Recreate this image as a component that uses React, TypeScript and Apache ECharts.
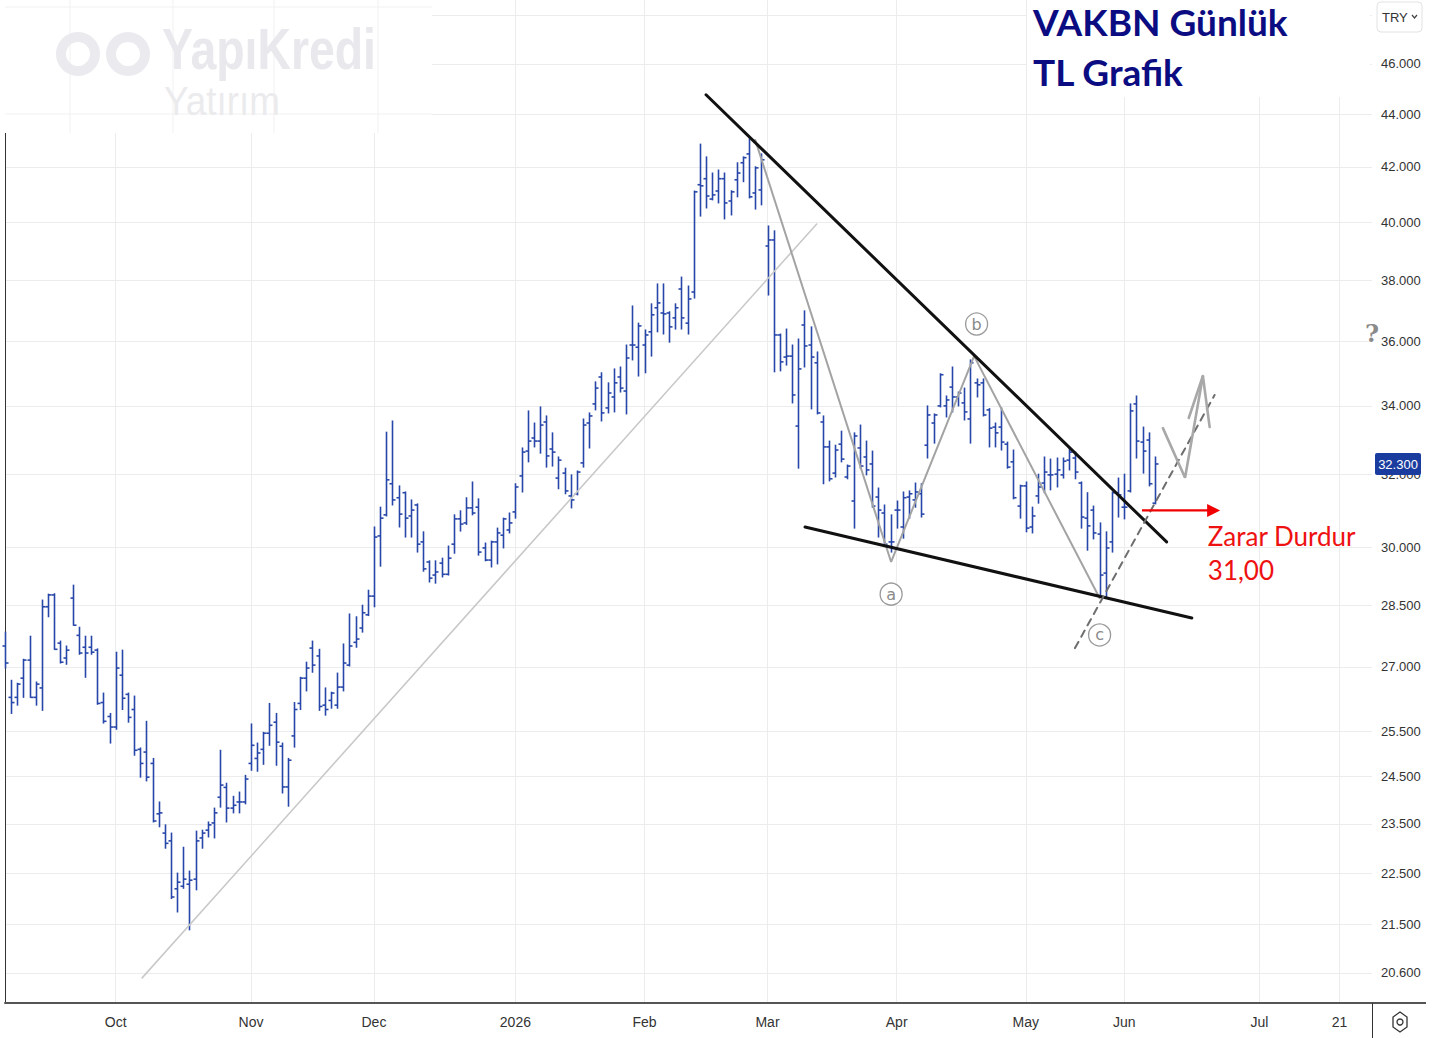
import React, { useEffect, useRef } from "react";
import * as echarts from "echarts";

// ---------- DATA (daily OHLC, VAKBN, TRY) ----------
const opens = [
  27.50, 26.28, 26.28, 26.73, 27.16, 26.28, 26.50, 28.47, 28.77, 27.57,
  27.21, 28.69, 27.76, 27.47, 27.47, 27.40, 26.16, 25.84, 25.60, 26.80,
  26.35, 26.00, 25.10, 25.04, 24.79, 23.71, 23.31, 23.15, 22.19, 22.24,
  22.28, 22.38, 23.21, 23.37, 23.52, 24.06, 24.27, 23.83, 23.96, 23.96,
  24.79, 24.90, 25.10, 25.46, 25.71, 25.17, 24.28, 25.40, 26.14, 26.73,
  27.45, 27.26, 26.10, 26.21, 26.10, 26.52, 27.04, 27.59, 27.94, 28.27,
  28.74, 30.31, 30.88, 31.74, 31.35, 31.49, 30.85, 31.15, 30.15, 29.62,
  29.28, 29.59, 29.30, 30.09, 30.77, 30.66, 31.07, 31.09, 29.99, 29.67,
  30.15, 30.33, 30.47, 30.96, 31.96, 32.67, 33.05, 32.96, 33.52, 32.73,
  31.90, 32.04, 31.40, 31.46, 32.33, 33.49, 34.06, 34.88, 33.94, 34.27,
  34.88, 34.45, 35.88, 35.81, 35.88, 36.30, 37.08, 36.91, 36.91, 36.75,
  37.70, 36.58, 37.60, 41.34, 41.56, 40.82, 41.11, 41.56, 40.75, 41.52,
  42.15, 42.48, 41.04, 41.15, 39.16, 39.37, 36.20, 35.50, 35.53, 33.40,
  36.52, 35.88, 35.32, 33.52, 32.79, 32.04, 32.87, 31.93, 31.26, 32.76,
  32.50, 32.30, 31.37, 30.93, 30.15, 31.01, 30.55, 31.37, 31.29, 31.46,
  32.84, 33.49, 34.00, 34.00, 34.57, 34.27, 34.09, 33.61, 34.70, 34.70,
  33.88, 33.37, 33.37, 32.87, 32.36, 31.12, 31.68, 30.55, 31.40, 31.76,
  31.99, 32.01, 31.99, 32.41, 32.47, 31.76, 30.79, 31.01, 30.36, 29.33,
  30.15, 31.49, 31.09, 31.54, 34.06, 32.93, 32.99, 31.20,
];
const highs = [
  27.84, 26.68, 26.61, 27.18, 27.74, 26.64, 28.64, 28.79, 28.80, 27.62,
  27.50, 29.02, 27.96, 27.74, 27.74, 27.43, 26.38, 25.91, 27.35, 27.40,
  26.38, 26.31, 25.13, 25.73, 24.90, 23.96, 23.48, 23.31, 22.50, 23.02,
  22.54, 23.35, 23.37, 23.54, 23.83, 25.08, 24.36, 24.08, 24.17, 24.53,
  25.67, 25.24, 25.48, 26.14, 25.91, 25.24, 24.90, 26.16, 26.75, 27.11,
  27.62, 27.42, 26.50, 26.40, 26.85, 27.55, 28.29, 28.22, 28.51, 28.89,
  30.55, 31.09, 33.22, 33.55, 31.68, 31.51, 31.29, 31.18, 30.42, 29.65,
  29.65, 29.72, 30.04, 30.88, 30.99, 31.35, 31.79, 31.32, 30.12, 30.17,
  30.52, 30.79, 30.93, 31.74, 32.76, 33.85, 33.49, 33.97, 33.70, 33.20,
  32.50, 32.18, 31.99, 32.10, 33.61, 33.79, 34.73, 35.01, 34.70, 35.13,
  35.19, 35.88, 37.14, 36.58, 36.36, 37.21, 37.87, 37.87, 36.95, 37.21,
  38.10, 37.80, 41.11, 42.85, 42.37, 41.77, 41.88, 41.77, 41.12, 42.15,
  42.37, 43.05, 42.00, 42.48, 39.86, 39.69, 36.23, 36.39, 35.88, 36.07,
  36.98, 36.46, 35.66, 33.70, 32.96, 32.84, 33.25, 32.27, 33.20, 33.43,
  32.96, 32.67, 31.62, 31.15, 30.88, 31.26, 31.51, 31.54, 31.76, 31.74,
  34.00, 33.76, 34.98, 34.30, 35.19, 34.42, 34.54, 35.41, 34.82, 34.82,
  33.92, 33.49, 33.94, 32.93, 32.70, 31.70, 31.79, 31.09, 32.01, 32.50,
  32.44, 32.47, 32.47, 32.76, 32.64, 31.79, 31.49, 31.12, 30.66, 30.42,
  31.51, 31.90, 32.01, 34.06, 34.30, 33.37, 33.20, 32.50,
];
const lows = [
  26.97, 25.91, 26.10, 26.28, 26.28, 26.10, 25.98, 28.22, 27.42, 27.09,
  27.06, 28.01, 27.30, 26.75, 27.30, 26.12, 25.69, 25.24, 25.55, 26.00,
  25.71, 24.97, 24.49, 24.41, 23.54, 23.44, 23.00, 22.00, 21.74, 22.20,
  21.40, 22.17, 23.00, 23.23, 23.21, 23.85, 23.54, 23.73, 23.73, 23.92,
  24.64, 24.62, 24.77, 25.19, 24.75, 24.15, 23.87, 25.15, 26.00, 26.43,
  26.87, 25.98, 25.87, 26.03, 26.03, 26.43, 27.02, 27.47, 27.84, 28.25,
  28.47, 29.51, 30.85, 31.15, 30.55, 30.28, 30.28, 29.88, 29.38, 29.10,
  29.07, 29.23, 29.28, 29.85, 30.44, 30.62, 30.88, 29.80, 29.65, 29.49,
  29.57, 29.99, 30.39, 30.79, 31.51, 32.36, 32.79, 32.61, 32.21, 32.24,
  31.60, 31.46, 31.07, 31.43, 32.21, 32.76, 33.88, 33.55, 33.79, 33.82,
  34.42, 33.76, 35.41, 34.91, 35.01, 35.53, 36.30, 36.23, 35.97, 36.39,
  36.39, 36.23, 37.40, 40.21, 40.50, 40.79, 40.68, 40.11, 40.25, 40.90,
  41.45, 40.86, 40.46, 40.61, 37.50, 35.04, 35.07, 35.25, 34.09, 32.18,
  35.19, 33.91, 33.76, 31.74, 31.82, 31.93, 32.36, 31.88, 30.52, 32.18,
  31.99, 31.09, 30.28, 30.07, 29.88, 30.52, 30.25, 30.79, 31.09, 30.82,
  32.47, 32.90, 33.97, 33.67, 33.82, 34.00, 33.58, 32.90, 34.27, 33.70,
  32.79, 32.79, 32.70, 32.18, 31.32, 30.79, 30.42, 30.39, 31.20, 31.49,
  31.57, 31.65, 31.90, 32.13, 31.88, 30.52, 29.93, 30.23, 28.72, 28.69,
  29.88, 30.82, 30.77, 31.51, 32.47, 32.04, 31.68, 31.18,
];
const closes = [
  27.09, 26.16, 26.59, 27.16, 26.28, 26.59, 28.47, 28.77, 27.42, 27.11,
  27.40, 28.01, 27.33, 27.33, 27.35, 26.14, 25.73, 25.60, 26.97, 26.26,
  25.82, 25.08, 24.79, 24.49, 23.56, 23.73, 23.10, 22.03, 22.32, 22.38,
  22.36, 23.15, 23.31, 23.48, 23.73, 24.32, 23.83, 23.89, 23.96, 24.45,
  25.19, 25.02, 25.46, 25.64, 25.26, 24.28, 24.86, 26.00, 26.73, 26.97,
  27.04, 26.07, 26.00, 26.38, 26.52, 27.09, 27.50, 27.67, 28.32, 28.74,
  30.28, 30.79, 31.85, 31.29, 30.90, 30.79, 31.01, 30.09, 29.44, 29.20,
  29.36, 29.30, 29.72, 30.77, 30.63, 31.07, 30.93, 29.88, 29.67, 30.15,
  30.39, 30.77, 30.66, 31.65, 32.64, 32.96, 32.96, 33.43, 32.53, 32.64,
  32.41, 31.54, 31.29, 32.07, 33.43, 33.70, 34.54, 33.79, 34.39, 34.70,
  34.54, 35.47, 35.88, 36.49, 36.20, 36.85, 37.24, 36.88, 36.46, 37.08,
  36.75, 37.37, 41.08, 41.30, 40.93, 40.97, 41.56, 40.68, 41.08, 41.77,
  42.34, 40.90, 41.96, 42.26, 39.37, 36.20, 35.35, 35.53, 34.33, 35.13,
  35.85, 35.50, 33.79, 32.79, 31.88, 32.70, 32.44, 32.24, 33.11, 32.24,
  32.13, 31.12, 31.01, 30.09, 30.15, 31.01, 31.35, 31.46, 31.51, 30.90,
  33.73, 33.73, 34.95, 34.18, 34.27, 34.39, 33.82, 35.32, 34.64, 33.73,
  33.34, 33.20, 32.93, 32.21, 31.35, 31.68, 30.52, 30.85, 31.65, 32.07,
  31.99, 32.13, 32.38, 32.64, 32.07, 30.82, 30.58, 30.39, 29.28, 29.99,
  31.49, 31.43, 31.09, 33.85, 32.96, 32.67, 31.74, 32.30,
];

// x axis: bar index of month starts and their labels
const monthTickIdx = [18, 40, 60, 83, 104, 124, 145, 166, 182, 204, 217];
const monthTickLabels = ["Oct", "Nov", "Dec", "2026", "Feb", "Mar", "Apr", "May", "Jun", "Jul", "21"];
// y axis (log): grid-line prices and labelled prices (48 is hidden behind the currency box)
const priceGridTicks = [20.6, 21.5, 22.5, 23.5, 24.5, 25.5, 27, 28.5, 30, 32, 34, 36, 38, 40, 42, 44, 46, 48];
const priceLabelTicks = [20.6, 21.5, 22.5, 23.5, 24.5, 25.5, 27, 28.5, 30, 32, 34, 36, 38, 40, 42, 44, 46];
const lastPrice = 32.3;
const stopPrice = 31.0;

// annotation anchors [bar index, price]
const supportLine = [[22.3, 20.51], [132.0, 39.93]];
const upperTrend = [[114.0, 44.76], [188.9, 30.15]];
const lowerTrend = [[130.1, 30.55], [193.0, 28.19]];
const waveLine = [[122.0, 43.01], [144.1, 29.62], [157.6, 35.53], [178.0, 28.69]];
const dashedLine = [[174.0, 27.45], [196.7, 34.33]];
const projPath = [[188.3, 33.34], [191.9, 31.91], [194.8, 34.91]];
const projHead = [[192.5, 33.64], [194.8, 34.91], [195.9, 33.37]];
const waveLabelNames = ["a", "b", "c"];
const waveLabelIdx = [144.1, 158.0, 178.0];
const waveLabelPrice = [28.79, 36.55, 27.77];
const stopArrow = [184.9, 197.6];
const stopTexts = ["Zarar Durdur", "31,00"];
const stopTextIdx = 195.6;
const stopTextPrice = [30.32, 29.41];

const X_MAX = 222.3;
const BAR_COLOR = "#2746a9";
const AXIS_FONT = "'Liberation Sans', Arial, sans-serif";

export default function App() {
  const ref = useRef<HTMLDivElement>(null);
  useEffect(() => {
    if (!ref.current) return;
    const chart = echarts.init(ref.current, undefined, { renderer: "svg" });
    const ohlc = opens.map((o, i) => [i, o, highs[i], lows[i], closes[i]]);

    const lineSeries = (data: number[][], color: string, width: number, type: any = "solid", z = 3) => ({
      type: "line",
      data,
      symbol: "none",
      silent: true,
      z,
      lineStyle: { color, width, type, cap: "round" },
      animation: false,
    });

    const option: any = {
      animation: false,
      backgroundColor: "#ffffff",
      grid: { left: 5, right: 71, top: 0, bottom: 35 },
      xAxis: {
        type: "value",
        min: 0,
        max: X_MAX,
        axisLine: { show: true, lineStyle: { color: "#555", width: 2 } },
        axisTick: { show: false, customValues: monthTickIdx },
        axisLabel: {
          customValues: monthTickIdx,
          formatter: (v: number) => monthTickLabels[monthTickIdx.indexOf(Math.round(v))] ?? "",
          color: "#333",
          fontSize: 14,
          fontFamily: AXIS_FONT,
          margin: 12,
        },
        splitLine: { show: true, lineStyle: { color: "#ececec", width: 1 } },
      },
      yAxis: {
        type: "log",
        position: "right",
        min: 20.06,
        max: 48.67,
        axisLine: { show: true, lineStyle: { color: "#333", width: 1 } },
        axisTick: { show: false, customValues: priceGridTicks },
        axisLabel: {
          customValues: priceLabelTicks,
          formatter: (v: number) => v.toFixed(3),
          color: "#333",
          fontSize: 13,
          fontFamily: AXIS_FONT,
          margin: 9,
        },
        splitLine: { show: true, lineStyle: { color: "#ececec", width: 1 } },
      },
      series: [
        {
          type: "custom",
          data: ohlc,
          encode: { x: 0, y: [1, 2, 3, 4] },
          z: 2,
          silent: true,
          renderItem: (params: any, api: any) => {
            const i = api.value(0);
            const pH = api.coord([i, api.value(2)]);
            const pL = api.coord([i, api.value(3)]);
            const yO = api.coord([i, api.value(1)])[1];
            const yC = api.coord([i, api.value(4)])[1];
            const x = Math.round(pH[0]) + 0.5;
            const t = 3;
            const style = { stroke: BAR_COLOR, lineWidth: 1.6 };
            return {
              type: "group",
              children: [
                { type: "line", shape: { x1: x, y1: pH[1] - 0.5, x2: x, y2: pL[1] + 0.5 }, style },
                { type: "line", shape: { x1: x - t, y1: yO, x2: x, y2: yO }, style },
                { type: "line", shape: { x1: x, y1: yC, x2: x + t, y2: yC }, style },
              ],
            };
          },
        },
        lineSeries(supportLine, "#c9c9c9", 1.6),
        lineSeries(waveLine, "#a3a3a3", 2),
        lineSeries(upperTrend, "#111111", 3),
        lineSeries(lowerTrend, "#111111", 3),
        lineSeries(dashedLine, "#6e6e6e", 2, [7, 6]),
        lineSeries(projPath, "#a8a8a8", 2.6),
        lineSeries(projHead, "#a8a8a8", 2.6),
        {
          type: "custom",
          silent: true,
          z: 5,
          data: waveLabelNames.map((_, k) => [waveLabelIdx[k], waveLabelPrice[k]]),
          encode: { x: 0, y: 1 },
          renderItem: (params: any, api: any) => {
            const p = api.coord([api.value(0), api.value(1)]);
            return {
              type: "group",
              children: [
                { type: "circle", shape: { cx: p[0], cy: p[1], r: 11 }, style: { fill: "#fff", stroke: "#9a9a9a", lineWidth: 1.3 } },
                {
                  type: "text",
                  x: p[0],
                  y: p[1],
                  style: { text: waveLabelNames[params.dataIndex], fill: "#8a8a8a", font: "16px 'DejaVu Sans', sans-serif", align: "center", verticalAlign: "middle" },
                },
              ],
            };
          },
        },
        {
          type: "custom",
          silent: true,
          z: 6,
          data: [[stopArrow[0], stopPrice, stopArrow[1]]],
          encode: { x: [0, 2], y: 1 },
          renderItem: (params: any, api: any) => {
            const a = api.coord([api.value(0), api.value(1)]);
            const b = api.coord([api.value(2), api.value(1)]);
            return {
              type: "group",
              children: [
                { type: "line", shape: { x1: a[0], y1: a[1], x2: b[0] - 8, y2: b[1] }, style: { stroke: "#f00000", lineWidth: 2.2 } },
                { type: "polygon", shape: { points: [[b[0], b[1]], [b[0] - 13, b[1] - 6.5], [b[0] - 13, b[1] + 6.5]] }, style: { fill: "#f00000" } },
              ],
            };
          },
        },
        {
          type: "custom",
          silent: true,
          z: 6,
          data: stopTexts.map((_, k) => [stopTextIdx, stopTextPrice[k]]),
          encode: { x: 0, y: 1 },
          renderItem: (params: any, api: any) => {
            const p = api.coord([api.value(0), api.value(1)]);
            return {
              type: "text",
              x: p[0],
              y: p[1],
              style: { text: stopTexts[params.dataIndex], fill: "#ee1111", font: "26px Lato, sans-serif", align: "left", verticalAlign: "middle" },
            };
          },
        },
        {
          type: "custom",
          silent: true,
          z: 10,
          clip: false,
          data: [[X_MAX, lastPrice]],
          encode: { x: 0, y: 1 },
          renderItem: (params: any, api: any) => {
            const p = api.coord([api.value(0), api.value(1)]);
            return {
              type: "group",
              children: [
                { type: "rect", shape: { x: p[0] + 3, y: p[1] - 11, width: 46, height: 22, r: 2 }, style: { fill: "#1b3c9f" } },
                {
                  type: "text",
                  x: p[0] + 26,
                  y: p[1] + 0.5,
                  style: { text: lastPrice.toFixed(3), fill: "#fff", font: `13px ${AXIS_FONT}`, align: "center", verticalAlign: "middle" },
                },
              ],
            };
          },
        },
      ],
      graphic: [
        // watermark box
        { type: "rect", z: 20, shape: { x: 0, y: 0, width: 432, height: 133 }, style: { fill: "#fff" } },
        ...[70, 173, 274, 378].map((x) => ({ type: "line", z: 21, shape: { x1: x, y1: 0, x2: x, y2: 133 }, style: { stroke: "#f1f1f1", lineWidth: 1 } })),
        { type: "line", z: 21, shape: { x1: 5, y1: 7, x2: 432, y2: 7 }, style: { stroke: "#f1f1f1", lineWidth: 1 } },
        { type: "line", z: 21, shape: { x1: 5, y1: 114, x2: 432, y2: 114 }, style: { stroke: "#f1f1f1", lineWidth: 1 } },
        { type: "ring", z: 22, shape: { cx: 78, cy: 54, r: 22, r0: 12 }, style: { fill: "#ebebef" } },
        { type: "ring", z: 22, shape: { cx: 128, cy: 54, r: 22, r0: 12 }, style: { fill: "#ebebef" } },
        { type: "text", z: 22, x: 162, y: 78, scaleX: 0.8, style: { text: "YapıKredi", font: "bold 58px 'Liberation Sans', sans-serif", fill: "#e8e8ed", verticalAlign: "bottom" } },
        { type: "text", z: 22, x: 164, y: 121, scaleX: 0.92, style: { text: "Yatırım", font: "40px 'Liberation Sans', sans-serif", fill: "#ebebee", verticalAlign: "bottom" } },
        // title
        { type: "rect", z: 20, shape: { x: 1027, y: 0, width: 343, height: 97 }, style: { fill: "#fff" } },
        { type: "text", z: 22, x: 1033, y: 3, style: { text: "VAKBN Günlük", font: "bold 37px Lato, sans-serif", fill: "#0c0c82" } },
        { type: "text", z: 22, x: 1033, y: 53, style: { text: "TL Grafik", font: "bold 37px Lato, sans-serif", fill: "#0c0c82" } },
        // TRY box
        { type: "rect", z: 22, shape: { x: 1377, y: 2, width: 45, height: 30, r: 4 }, style: { fill: "#fff", stroke: "#e2e2e2", lineWidth: 1 } },
        { type: "text", z: 23, x: 1382, y: 17, style: { text: "TRY", font: `13px ${AXIS_FONT}`, fill: "#333", verticalAlign: "middle" } },
        { type: "polyline", z: 23, shape: { points: [[1412, 15], [1414.5, 18], [1417, 15]] }, style: { stroke: "#444", lineWidth: 1.2, fill: null } },
        // question mark at axis
        { type: "text", z: 23, x: 1372, y: 333, style: { text: "?", font: "bold 24px 'DejaVu Serif', serif", fill: "#8a8a8a", align: "center", verticalAlign: "middle" } },
        // axis extensions
        { type: "line", z: 9, shape: { x1: 1372, y1: 1003, x2: 1426, y2: 1003 }, style: { stroke: "#555", lineWidth: 2 } },
        { type: "line", z: 9, shape: { x1: 1372.5, y1: 1003, x2: 1372.5, y2: 1038 }, style: { stroke: "#333", lineWidth: 1 } },
        // settings icon
        { type: "polygon", z: 9, shape: { points: [[1400, 1012], [1407, 1017], [1407, 1027], [1400, 1032], [1393, 1027], [1393, 1017]] }, style: { fill: null, stroke: "#333", lineWidth: 1.3 } },
        { type: "circle", z: 9, shape: { cx: 1400, cy: 1022, r: 3 }, style: { fill: null, stroke: "#333", lineWidth: 1.3 } },
      ],
    };
    chart.setOption(option);
    return () => chart.dispose();
  }, []);
  return <div ref={ref} style={{ width: 1443, height: 1038, position: "absolute", left: 0, top: 0 }} />;
}
